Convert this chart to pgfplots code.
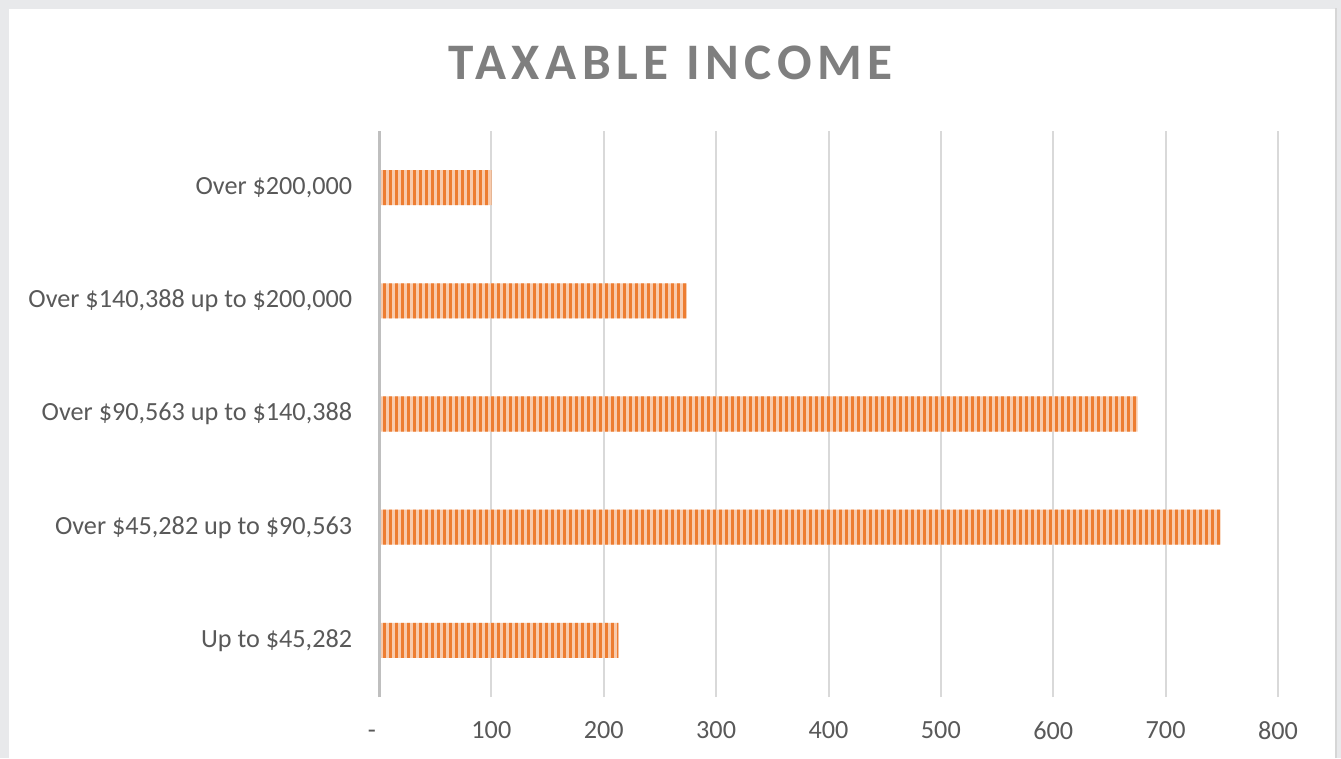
\documentclass[border=0pt]{standalone}
\usepackage{fontspec}
\setmainfont{Carlito}
\usepackage{pgfplots}
\pgfplotsset{compat=1.18}
\usetikzlibrary{patterns.meta}
\definecolor{barorange}{HTML}{ED7D31}
\definecolor{barlight}{HTML}{F8CBAD}
\definecolor{txtgray}{HTML}{595959}
\definecolor{titlegray}{HTML}{7F7F7F}
\definecolor{gridgray}{HTML}{D9D9D9}
\definecolor{axisgray}{HTML}{BFBFBF}
\definecolor{bggray}{HTML}{E8E9EB}
\definecolor{edgegray}{HTML}{D6D6D6}
\begin{document}
\begin{tikzpicture}
\fill[bggray] (0,0) rectangle (670.5bp,379bp);
\fill[white] (4.5bp,0) rectangle (667.5bp,374.5bp);
\draw[edgegray, line width=1bp] (668.2bp,0) -- (668.2bp,375bp);
\node[anchor=base, text=titlegray, font=\fontsize{25.6bp}{30bp}\selectfont\bfseries\addfontfeature{LetterSpace=11}] at (335.25bp,339bp) {TAXABLE INCOME};
\begin{axis}[
  at={(189.5bp,30.5bp)}, anchor=south west,
  scale only axis, width=449.5bp, height=283bp,
  xmin=0, xmax=800, ymin=-0.5, ymax=4.5,
  xtick={0,100,...,800},
  xticklabels={{\llap{-\hspace{1.5bp}}\vphantom{0}},100,200,300,400,500,600,700,800},
  ytick={0,1,2,3,4},
  yticklabels={{Up to \$45,282},{Over \$45,282 up to \$90,563},{Over \$90,563 up to \$140,388},{Over \$140,388 up to \$200,000},{Over \$200,000}},
  xmajorgrids, grid style={gridgray, line width=1bp},
  axis line style={draw=none},
  tick style={draw=none},
  tick label style={font=\fontsize{13.1bp}{16bp}\selectfont, text=txtgray},
  /pgf/number format/assume math mode=true,
  xticklabel style={anchor=north, inner sep=0pt, yshift=-12bp},
  yticklabel style={anchor=east, inner sep=0pt, xshift=-9bp},
  xbar, bar width=17.5bp, bar shift=0pt,
  clip=false,
]
\addplot[draw=none, fill=barlight, postaction={pattern={Lines[angle=90,distance=3bp,line width=1.5bp]}, pattern color=barorange}]
  coordinates {(213,0) (749,1) (675,2) (274,3) (100,4)};
\draw[axisgray, line width=1.5bp] (axis cs:0,-0.5) -- (axis cs:0,4.5);
\end{axis}
\end{tikzpicture}
\end{document}
